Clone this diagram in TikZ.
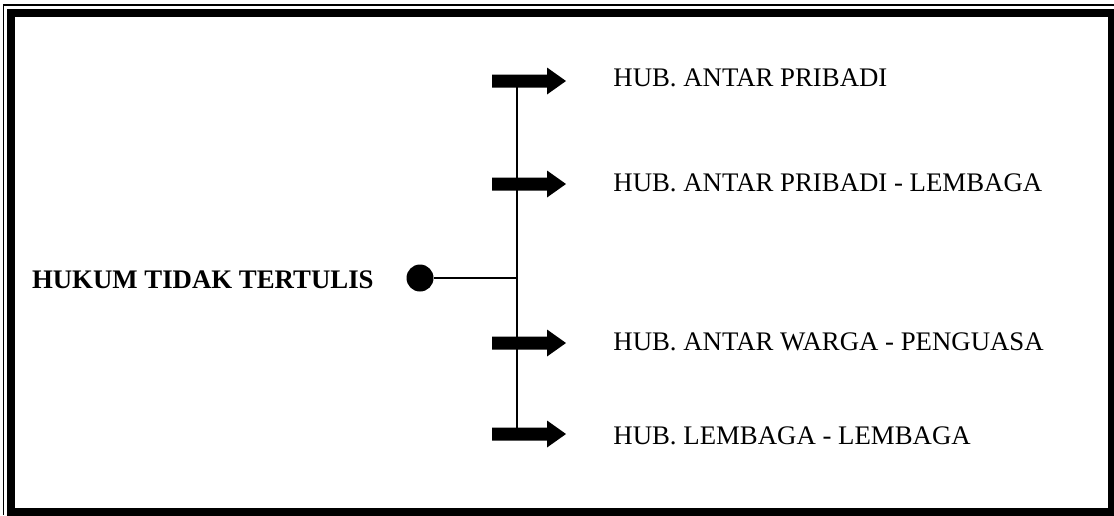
\documentclass[tikz,border=0pt]{standalone}
\usepackage{fontspec}
\setmainfont{Liberation Serif}

\begin{document}
\begin{tikzpicture}[x=0.5pt,y=-0.5pt,font=\fontsize{13.4}{16}\selectfont]
	\useasboundingbox (0,0) rectangle (1114,515);
	% bingkai
	\draw[line width=0.65pt] (3.5,515) -- (3.5,5) -- (1114,5);
	\draw[line width=4pt] (11,13) rectangle (1112,512);
	% sisi kiri
	\node[font=\fontsize{13.4}{16}\selectfont\bfseries, anchor=east, inner sep=0pt] (hukum) at (374,280) {HUKUM TIDAK TERTULIS};
	\node[circle, fill, inner sep=0pt, minimum size=13.5pt] (titik) at (420,278) {};
	\coordinate (tengah) at (517,278);
	\draw[line width=0.75pt] (titik) -- (tengah);
	% cabang
	\coordinate (pa) at (517,81);
	\coordinate (pd) at (517,434);
	\draw[line width=0.75pt] (pa) -- (pd);
	\foreach \y/\ty/\nama/\teks in {81/78/a/HUB. ANTAR PRIBADI,
		184/183/b/HUB. ANTAR PRIBADI - LEMBAGA,
		343/342/c/HUB. ANTAR WARGA - PENGUASA,
		434/436/d/HUB. LEMBAGA - LEMBAGA}
	{
		\fill[shift={(0,\y)}] (492,-6.5) -- (547,-6.5) -- (547,-13.5) -- (566,0)
			-- (547,13.5) -- (547,6.5) -- (492,6.5) -- cycle;
		\node[anchor=west, inner sep=0pt] (t\nama) at (613,\ty) {\teks};
	}
\end{tikzpicture}
\end{document}
